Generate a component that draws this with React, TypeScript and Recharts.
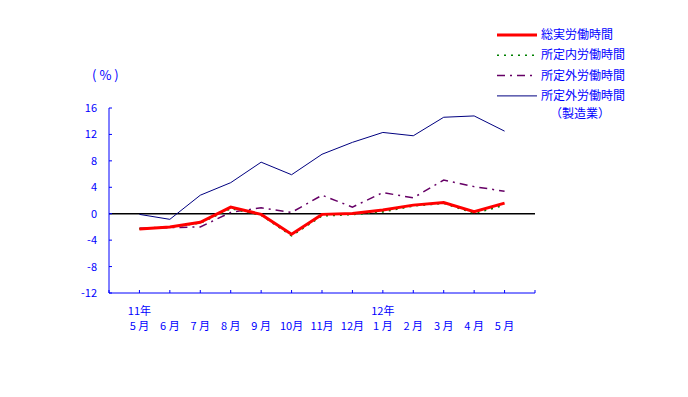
import React from 'react';
import { LineChart, Line, XAxis, YAxis, ReferenceLine } from 'recharts';

// positions on the axis: 1..13, one empty slot on each side
const positions = [1, 2, 3, 4, 5, 6, 7, 8, 9, 10, 11, 12, 13];
const months = ['5 月', '6 月', '7 月', '8 月', '9 月', '10月', '11月', '12月', '1 月', '2 月', '3 月', '4 月', '5 月'];
const years: Record<number, string> = { 1: '11年', 9: '12年' };

const totalHours = [-2.3, -2.0, -1.3, 1.0, -0.1, -3.1, -0.1, 0.05, 0.55, 1.3, 1.7, 0.3, 1.6];
const scheduledHours = [-2.3, -2.0, -1.4, 0.8, -0.2, -3.3, -0.3, -0.1, 0.3, 1.2, 1.6, 0.1, 1.3];
const overtimeHours = [-2.2, -2.1, -2.0, 0.2, 0.9, 0.2, 2.8, 1.0, 3.2, 2.4, 5.1, 4.1, 3.4];
const overtimeMfg = [-0.1, -0.85, 2.8, 4.7, 7.8, 5.9, 9.0, 10.8, 12.3, 11.8, 14.6, 14.8, 12.5];

const yTicks = [-12, -8, -4, 0, 4, 8, 12, 16];
const xTicks = [0, 1, 2, 3, 4, 5, 6, 7, 8, 9, 10, 11, 12, 13, 14];

const data = positions.map((p, i) => ({
  pos: p,
  total: totalHours[i],
  scheduled: scheduledHours[i],
  overtime: overtimeHours[i],
  mfg: overtimeMfg[i],
}));

const BLUE = '#0000ff';
const FONT = '"Noto Sans CJK JP", sans-serif';

const XTick = (props: any) => {
  const { x, y, payload } = props;
  const v = payload.value as number;
  return (
    <g>
      <line x1={x} y1={y} x2={x} y2={y - 3} stroke={BLUE} strokeWidth={1} />
      {years[v] && (
        <text x={x} y={y + 22} textAnchor="middle" fill={BLUE} fontSize={11} fontFamily={FONT}>
          {years[v]}
        </text>
      )}
      {v >= 1 && v <= 13 && (
        <text x={x} y={y + 37} textAnchor="middle" fill={BLUE} fontSize={11} fontFamily={FONT}>
          {months[v - 1]}
        </text>
      )}
    </g>
  );
};

const YTick = (props: any) => {
  const { x, y, payload } = props;
  return (
    <g>
      <line x1={x} y1={y} x2={x + 3} y2={y} stroke={BLUE} strokeWidth={1} />
      <text x={x - 12} y={y + 4} textAnchor="end" fill={BLUE} fontSize={11} fontFamily={FONT}>
        {payload.value}
      </text>
    </g>
  );
};

const legendItems = [
  { label: '総実労働時間', stroke: '#ff0000', width: 3, dash: undefined },
  { label: '所定内労働時間', stroke: '#008000', width: 1.5, dash: '2 5' },
  { label: '所定外労働時間', stroke: '#660066', width: 1.5, dash: '8 5 2 5' },
  { label: '所定外労働時間', stroke: '#000080', width: 1, dash: undefined },
];

export default function App() {
  return (
    <div style={{ position: 'absolute', left: 0, top: 0, width: 688, height: 397, background: '#fff' }}>
      <LineChart
        width={688}
        height={397}
        data={data}
        margin={{ top: 108, right: 153, left: 69, bottom: 64 }}
      >
        <XAxis
          dataKey="pos"
          type="number"
          domain={[0, 14]}
          ticks={xTicks}
          interval={0}
          height={40}
          stroke={BLUE}
          tickSize={0}
          tickMargin={0}
          tickLine={false}
          tick={<XTick />}
        />
        <YAxis
          type="number"
          domain={[-12, 16]}
          ticks={yTicks}
          interval={0}
          width={40}
          stroke={BLUE}
          tickSize={0}
          tickMargin={0}
          tickLine={false}
          tick={<YTick />}
        />
        <ReferenceLine y={0} stroke="#000000" strokeWidth={1.5} />
        <Line dataKey="mfg" stroke="#000080" strokeWidth={1} dot={false} isAnimationActive={false} />
        <Line
          dataKey="overtime"
          stroke="#660066"
          strokeWidth={1.5}
          strokeDasharray="8 5 2 5"
          dot={false}
          isAnimationActive={false}
        />
        <Line
          dataKey="scheduled"
          stroke="#008000"
          strokeWidth={2}
          strokeDasharray="2 5"
          dot={false}
          isAnimationActive={false}
        />
        <Line dataKey="total" stroke="#ff0000" strokeWidth={3} dot={false} isAnimationActive={false} />
      </LineChart>

      <svg style={{ position: 'absolute', left: 0, top: 0 }} width={688} height={130}>
        <text x={92} y={80} fill={BLUE} fontSize={13} fontFamily={FONT} letterSpacing={3}>
          (%)
        </text>
        {legendItems.map((it, i) => {
          const cy = 35 + i * 20.3;
          return (
            <g key={i}>
              <line
                x1={497}
                x2={537}
                y1={cy}
                y2={cy}
                stroke={it.stroke}
                strokeWidth={it.width}
                strokeDasharray={it.dash}
              />
              <text x={541} y={cy + 4} fill={BLUE} fontSize={12} fontFamily={FONT}>
                {it.label}
              </text>
            </g>
          );
        })}
        <text x={550} y={118} fill={BLUE} fontSize={12} fontFamily={FONT}>
          （製造業）
        </text>
      </svg>
    </div>
  );
}
